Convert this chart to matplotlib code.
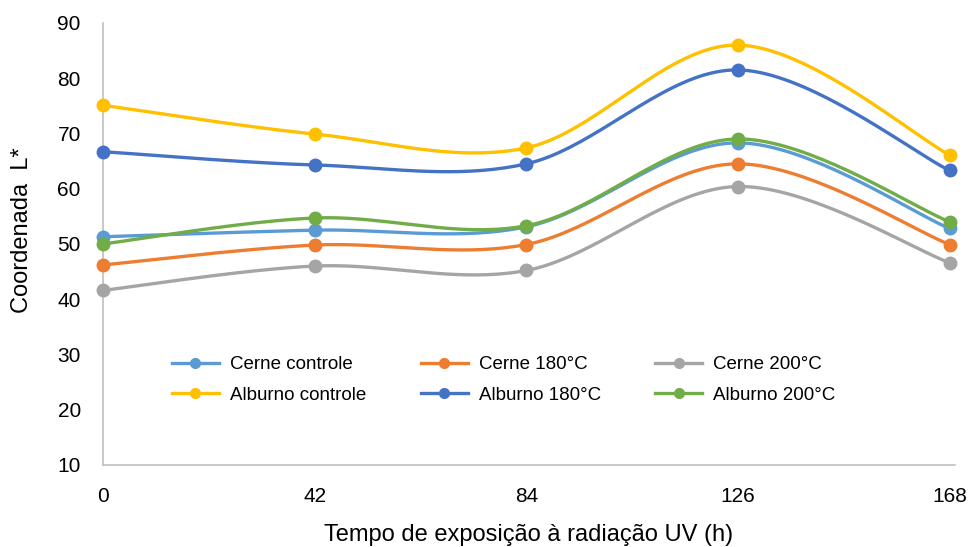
import numpy as np
import matplotlib.pyplot as plt

plt.rcParams['font.family'] = ['Liberation Sans', 'DejaVu Sans']

# exposure times (h) and L* for each wood/treatment
times = ['0', '42', '84', '126', '168']
cerne_controle = [51.3, 52.5, 53.1, 68.3, 52.8]
cerne_180 = [46.2, 49.8, 49.9, 64.5, 49.9]
cerne_200 = [41.6, 46.0, 45.2, 60.4, 46.6]
alburno_controle = [75.1, 69.9, 67.4, 86.0, 66.1]
alburno_180 = [66.7, 64.3, 64.5, 81.5, 63.3]
alburno_200 = [50.0, 54.7, 53.3, 69.0, 54.0]

series = [
    ('Cerne controle', cerne_controle, '#5B9BD5'),
    ('Cerne 180°C', cerne_180, '#ED7D31'),
    ('Cerne 200°C', cerne_200, '#A5A5A5'),
    ('Alburno controle', alburno_controle, '#FFC000'),
    ('Alburno 180°C', alburno_180, '#4472C4'),
    ('Alburno 200°C', alburno_200, '#70AD47'),
]


def smooth(x, y, n=40):
    # Catmull-Rom style bezier segments, like a spreadsheet "smoothed line"
    x = np.asarray(x, float)
    y = np.asarray(y, float)
    px = np.concatenate([[x[0]], x, [x[-1]]])
    py = np.concatenate([[y[0]], y, [y[-1]]])
    xs, ys = [], []
    t = np.linspace(0, 1, n)
    for i in range(len(x) - 1):
        p0 = np.array([px[i + 1], py[i + 1]])
        p3 = np.array([px[i + 2], py[i + 2]])
        c1 = p0 + (np.array([px[i + 2], py[i + 2]]) - np.array([px[i], py[i]])) / 6
        c2 = p3 - (np.array([px[i + 3], py[i + 3]]) - np.array([px[i + 1], py[i + 1]])) / 6
        b = ((1 - t) ** 3)[:, None] * p0 + (3 * (1 - t) ** 2 * t)[:, None] * c1 \
            + (3 * (1 - t) * t ** 2)[:, None] * c2 + (t ** 3)[:, None] * p3
        xs.append(b[:, 0])
        ys.append(b[:, 1])
    return np.concatenate(xs), np.concatenate(ys)


fig = plt.figure(figsize=(9.77, 5.47), dpi=100)
ax = fig.add_axes([0.1054, 0.150, 0.872, 0.808])

pos = np.arange(len(times))
handles = []
for label, vals, col in series:
    sx, sy = smooth(pos, vals)
    ax.plot(sx, sy, color=col, lw=2.4, solid_capstyle='round', clip_on=False)
    ax.plot(pos, vals, 'o', color=col, ms=9, clip_on=False, zorder=3)
    h, = ax.plot([], [], '-o', color=col, lw=2.4, ms=7, label=label)
    handles.append(h)

ax.set_xlim(0, 4.025)
ax.set_ylim(10, 90)
ax.set_yticks(range(10, 91, 10))
ax.set_xticks(pos)
ax.set_xticklabels(times)
ax.tick_params(length=0, labelsize=15)
ax.tick_params(axis='y', pad=16)
ax.tick_params(axis='x', pad=16)

for s in ['top', 'right']:
    ax.spines[s].set_visible(False)
for s in ['left', 'bottom']:
    ax.spines[s].set_color('#BFBFBF')
    ax.spines[s].set_linewidth(1.2)

fig.text(0.541, 1 - 541 / 547, 'Tempo de exposição à radiação UV (h)',
         fontsize=17, ha='center', va='baseline')
fig.text(22 / 977, 1 - 230 / 547, 'Coordenada  L*', fontsize=17,
         rotation=90, ha='center', va='center')

# row-wise order for a 3-column legend
order = [0, 3, 1, 4, 2, 5]
ax.legend([handles[i] for i in order], [series[i][0] for i in order],
          ncol=3, loc='center left', bbox_to_anchor=(0.081, 0.192),
          frameon=False, fontsize=13.5, handlelength=2.5, columnspacing=2.9,
          handletextpad=0.6, labelspacing=0.72, borderpad=0, borderaxespad=0)

fig.savefig('out.png', dpi=100)
